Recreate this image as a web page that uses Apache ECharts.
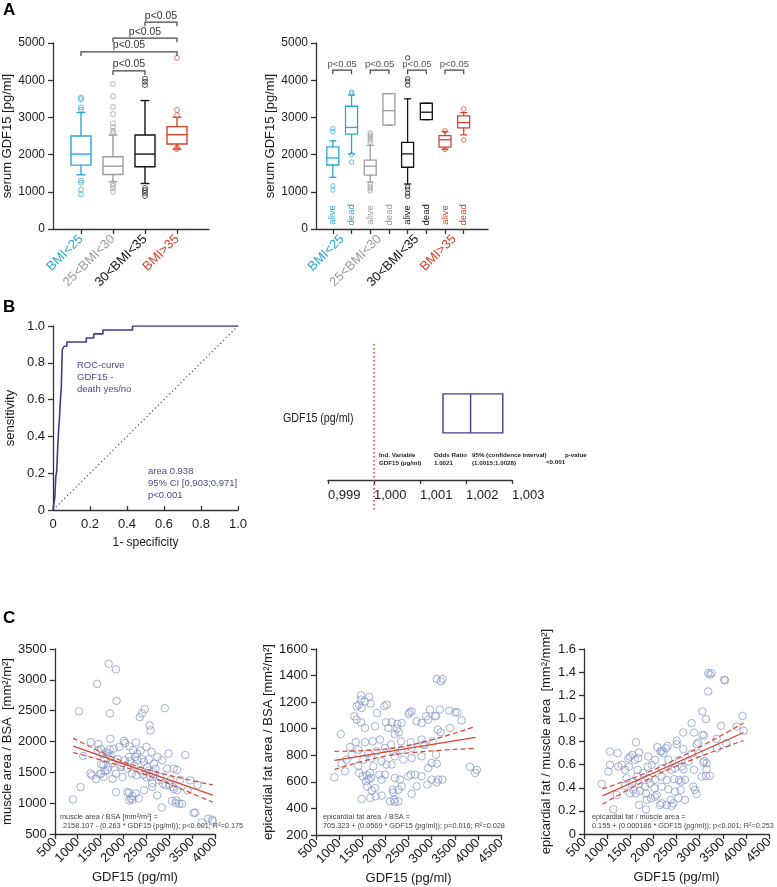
<!DOCTYPE html>
<html><head><meta charset="utf-8">
<script src="https://cdn.jsdelivr.net/npm/echarts@6/dist/echarts.min.js"></script>
<style>html,body{margin:0;padding:0;background:#fff}#c{width:777px;height:887px}</style>
</head><body><div id="c"></div>
<script>
// ================= DATA =================
// Panel A
const bmiGroups = ['BMI<25', '25<BMI<30', '30<BMI<35', 'BMI>35'];
const groupColors = ['#2ba7d6', '#9d9d9d', '#141414', '#d8432e'];
const pLabel = 'p<0.05';
// [position, whiskerLow, Q1, median, Q3, whiskerHigh, groupIndex]
const boxesA = [
  [1, 1457, 1718, 2014, 2500, 3130, 0],
  [2, 1268, 1466, 1690, 1942, 2527, 1],
  [3, 1223, 1673, 2014, 2527, 3453, 2],
  [4, 2149, 2284, 2536, 2752, 3004, 3]
];
// [position, value, groupIndex]
const outliersA = [
  [1,3530,0],[1,3490,0],[1,3270,0],[1,3210,0],[1,1300,0],[1,1240,0],[1,1060,0],[1,930,0],
  [2,3900,1],[2,3570,1],[2,3280,1],[2,3090,1],[2,2840,1],[2,2740,1],[2,2640,1],[2,2580,1],
  [2,1230,1],[2,1160,1],[2,1090,1],[2,1000,1],
  [3,4040,2],[3,3960,2],[3,3870,2],[3,1100,2],[3,1040,2],[3,970,2],[3,890,2],
  [4,4600,3],[4,3200,3],[4,3060,3],[4,2190,3],[4,2150,3]
];
// [fromPos, toPos, level]
const bracketsA = [[3,4,5560],[2,4,5130],[1,4,4760],[2,3,4250]];

const aliveDead = ['alive', 'dead'];
const boxesA2 = [
  [1, 1390, 1720, 1910, 2210, 2370, 0],
  [2, 2020, 2550, 2730, 3300, 3600, 0],
  [3, 1260, 1450, 1690, 1850, 2250, 1],
  [4, 2790, 2790, 3180, 3640, 3640, 1],
  [5, 1210, 1660, 2020, 2330, 3500, 2],
  [6, 2940, 2940, 3140, 3380, 3380, 2],
  [7, 2140, 2200, 2400, 2510, 2620, 3],
  [8, 2530, 2720, 2860, 3040, 3130, 3]
];
const outliersA2 = [
  [1,2700,0],[1,2620,0],[1,1160,0],[1,1050,0],
  [2,3680,0],[2,3640,0],[2,2000,0],[2,1800,0],
  [3,2580,1],[3,2530,1],[3,2480,1],[3,2430,1],[3,2380,1],[3,2330,1],[3,1200,1],[3,1140,1],[3,1080,1],[3,1020,1],
  [5,4600,2],[5,4040,2],[5,3970,2],[5,3870,2],[5,1130,2],[5,1060,2],[5,960,2],[5,880,2],
  [7,2640,3],[7,2140,3],[8,3230,3],[8,2390,3]
];
const bracketsA2 = [[1,2,4270],[3,4,4270],[5,6,4270],[7,8,4270]];
const groupLabelPosA2 = [1.5, 3.5, 5.5, 7.5];

// Panel B – ROC
const rocFpr = [0,0.01,0.015,0.02,0.025,0.03,0.035,0.04,0.045,0.05,0.06,0.075,0.18,0.22,0.27,0.43,1.0];
const rocTpr = [0,0.07,0.18,0.21,0.33,0.43,0.5,0.6,0.67,0.87,0.89,0.913,0.935,0.957,0.978,1.0,1.0];
const rocDiag = [[0,0],[1,1]];
const rocText1 = ['ROC-curve', 'GDF15 -', 'death yes/no'];
const rocText2 = ['area 0.938', '95% CI [0,903;0,971]', 'p<0.001'];

// Panel B – Odds ratio
const forestVar = 'GDF15 (pg/ml)';
const forestRows = [[1.0015, 1.0021, 1.0028]]; // [CI low, OR, CI high]
const forestRef = 1.0;

// Panel C
const muscle = [[1676,3260],[1835,3170],[1424,2935],[1849,2660],[1027,2490],[1705,2455],[2463,2525],[2405,2455],[2355,2395],[2903,2540],[2571,2260],[2593,2180],[1712,2045],[1286,1990],[1452,1960],[2008,2010],[2037,1975],[2275,1985],[2499,1910],[2982,1805],[3350,1780],[1120,1765],[1510,1880],[1619,1830],[1792,1885],[1907,1910],[2131,1920],[2210,1860],[2376,1855],[2615,1830],[2745,1750],[1438,1855],[1582,1720],[1727,1750],[1871,1715],[2030,1695],[2123,1750],[2304,1695],[2448,1670],[2557,1710],[2665,1640],[2845,1695],[1510,1630],[1669,1585],[1943,1585],[2087,1560],[2232,1615],[2376,1530],[2520,1585],[2700,1560],[2953,1560],[3097,1560],[3170,1540],[1279,1480],[1308,1450],[1510,1480],[1568,1425],[1835,1480],[1979,1425],[2181,1480],[2282,1450],[2434,1460],[2593,1425],[2773,1370],[2867,1315],[3025,1370],[3242,1380],[3458,1370],[3617,1300],[1402,1395],[1763,1395],[2629,1325],[2925,1290],[3083,1260],[3170,1210],[3401,1210],[2087,1180],[2123,1165],[2196,1115],[2268,1155],[2448,1210],[2629,1260],[2160,1075],[2196,1055],[2123,1045],[2333,1075],[3061,1035],[3155,1045],[3220,990],[3148,1000],[3278,990],[2838,930],[1063,1260],[897,1060],[3531,845],[3567,845],[3711,685],[3855,750],[3942,730],[3949,705],[1835,1180],[2737,1125],[2557,1530],[1550,1790],[1650,1800],[1700,1870],[1600,1520],[1650,1540],[1760,1650],[2250,1750],[2300,1800],[2400,1720],[2150,1680],[1950,1610],[2500,1420],[2650,1500],[2800,1420],[3000,1300],[3100,1230],[1480,1470],[1560,1620]];
const muscleFit = [[900,1925],[3950,1130]];
const muscleUpper = [[900,2055],[2200,1620],[3950,1296]];
const muscleLower = [[900,1822],[2200,1540],[3950,1015]];
const muscleEq = ['muscle area / BSA [mm²/m²] =', '2158.107 - (0.263 * GDF15 (pg/ml)); p<0.001; R²=0.175'];

const fat = [[3109,1374],[3238,1374],[3202,1357],[1473,1251],[1473,1219],[1430,1181],[1487,1156],[1559,1206],[1379,1169],[1977,1169],[2027,1181],[1819,1118],[2525,1123],[2568,1131],[2964,1144],[3180,1144],[3382,1136],[3504,1123],[3555,1123],[3648,1063],[1329,1093],[1379,1068],[1473,1048],[1559,1006],[2878,1093],[3072,1093],[3094,1098],[2928,1068],[2676,1056],[2258,1036],[2013,1048],[2136,1048],[2352,1043],[3130,993],[3397,1006],[1775,1018],[2064,1006],[2784,1043],[1033,960],[1358,900],[1559,898],[1725,905],[1883,918],[2121,880],[2294,973],[2337,905],[2546,898],[2784,918],[3022,905],[3195,973],[2856,880],[1235,862],[1415,842],[1271,805],[1631,817],[1811,830],[1991,855],[2171,830],[2352,842],[2568,855],[2820,880],[3094,805],[1163,767],[1523,767],[1703,780],[1919,755],[2027,730],[2207,792],[2388,767],[2568,780],[2784,792],[3000,742],[3109,737],[1055,737],[1127,679],[1415,722],[1739,717],[2136,730],[1430,667],[1509,642],[1580,604],[1667,667],[1689,629],[1869,654],[1919,617],[1991,654],[2207,629],[2316,617],[2496,642],[2554,654],[2640,654],[2784,642],[2928,704],[3000,617],[3144,617],[3231,617],[896,634],[1602,566],[1703,536],[1775,554],[2157,541],[2280,541],[2352,566],[2676,566],[2907,579],[3109,596],[1790,491],[1919,496],[2171,521],[2568,509],[1487,471],[1675,479],[2186,466],[2207,448],[2100,453],[2280,453],[3829,712],[3941,667],[3977,690],[1650,1240],[1680,1190],[2500,1110],[2200,960],[2250,1000],[1600,650],[1640,620]];
const fatFit = [[900,762],[3950,935]];
const fatUpper = [[900,830],[2100,850],[3950,1018]];
const fatLower = [[900,692],[2100,800],[3950,852]];
const fatEq = ['epicardial fat area  / BSA =', '705.323 + (0.0569 * GDF15 (pg/ml)); p=0.016; R²=0.028'];

const ratio = [[3187,1.392],[3260,1.392],[3223,1.378],[3533,1.334],[3547,1.328],[3187,1.233],[3058,1.060],[3929,1.022],[3137,0.993],[3461,0.936],[2827,0.959],[3951,0.892],[3800,0.930],[3058,0.858],[3094,0.852],[2647,0.878],[2878,0.878],[3368,0.823],[2503,0.806],[2935,0.777],[2971,0.791],[3576,0.783],[2308,0.762],[2503,0.777],[2647,0.734],[3375,0.742],[1062,0.713],[1228,0.699],[1624,0.794],[1689,0.705],[2085,0.751],[2179,0.719],[2215,0.699],[2272,0.742],[2827,0.693],[2986,0.699],[3101,0.632],[1062,0.598],[1314,0.598],[1494,0.670],[1458,0.653],[1545,0.684],[1602,0.641],[1674,0.656],[1890,0.670],[2035,0.641],[2150,0.713],[2323,0.641],[2553,0.641],[2611,0.583],[2755,0.627],[3079,0.618],[3151,0.612],[1242,0.583],[1386,0.555],[1473,0.583],[1660,0.555],[1876,0.583],[1962,0.598],[2179,0.569],[2395,0.555],[2467,0.569],[2647,0.560],[2878,0.555],[3151,0.560],[3043,0.497],[3137,0.503],[3223,0.503],[1026,0.540],[1422,0.482],[1646,0.497],[1782,0.526],[1890,0.482],[2035,0.468],[2179,0.497],[2287,0.468],[2453,0.474],[2553,0.468],[2597,0.453],[2683,0.468],[882,0.433],[1386,0.416],[1566,0.453],[1689,0.433],[1818,0.410],[1926,0.439],[2020,0.396],[2179,0.410],[2323,0.387],[2467,0.367],[2590,0.381],[2863,0.410],[2899,0.381],[1566,0.381],[1617,0.352],[1710,0.372],[1494,0.352],[1206,0.338],[1840,0.352],[2035,0.323],[2374,0.295],[2539,0.309],[2683,0.295],[2935,0.347],[1855,0.295],[1948,0.309],[2071,0.338],[2143,0.251],[2179,0.266],[2287,0.251],[2395,0.243],[2431,0.266],[1689,0.251],[1840,0.214],[1134,0.214]];
const ratioFit = [[900,0.33],[3950,0.878]];
const ratioUpper = [[900,0.39],[2200,0.59],[3950,0.96]];
const ratioLower = [[900,0.257],[2200,0.535],[3950,0.809]];
const ratioEq = ['epicardial fat / muscle area =', '0.155 + (0.000186 * GDF15 (pg/ml)); p<0.001; R²=0.253'];

// ================= CHART =================
const FONT = '"Liberation Sans", Arial, Helvetica, sans-serif';
const AX = '#333';
const TXT = '#1a1a1a';
const RED = '#d9432f';
const ROC_C = '#3f3d8f';
const DOT_C = '#7d92c6';

function isObj(o) { return o && typeof o === 'object' && !Array.isArray(o); }
function merge(a, b) {
  const out = Object.assign({}, a);
  for (const k in b) out[k] = (isObj(a[k]) && isObj(b[k])) ? merge(a[k], b[k]) : b[k];
  return out;
}
function axis(extra) {
  return merge({
    type: 'value', splitLine: { show: false },
    axisLine: { show: true, onZero: false, lineStyle: { color: AX, width: 1.3 } },
    axisTick: { show: true, length: 5, lineStyle: { color: AX, width: 1.3 } },
    axisLabel: { color: TXT, fontSize: 13, fontFamily: FONT, formatter: v => String(v) },
    nameLocation: 'middle',
    nameTextStyle: { color: TXT, fontSize: 13, fontFamily: FONT }
  }, extra);
}

function boxRender(halfW, capHalf, lw) {
  return function (params, api) {
    const pos = api.value(0);
    const col = groupColors[api.value(6)];
    const pt = v => api.coord([pos, v]);
    const lo = pt(api.value(1)), q1 = pt(api.value(2)), md = pt(api.value(3)),
          q3 = pt(api.value(4)), hi = pt(api.value(5));
    const x = lo[0];
    const st = { stroke: col, lineWidth: lw, fill: null };
    return { type: 'group', children: [
      { type: 'rect', shape: { x: x - halfW, y: q3[1], width: 2 * halfW, height: q1[1] - q3[1] }, style: { stroke: col, lineWidth: lw, fill: 'rgba(0,0,0,0)' } },
      { type: 'line', shape: { x1: x - halfW, y1: md[1], x2: x + halfW, y2: md[1] }, style: st },
      { type: 'line', shape: { x1: x, y1: q3[1], x2: x, y2: hi[1] }, style: st },
      { type: 'line', shape: { x1: x, y1: q1[1], x2: x, y2: lo[1] }, style: st },
      { type: 'line', shape: { x1: x - capHalf, y1: hi[1], x2: x + capHalf, y2: hi[1] }, style: st },
      { type: 'line', shape: { x1: x - capHalf, y1: lo[1], x2: x + capHalf, y2: lo[1] }, style: st }
    ]};
  };
}
function bracketRender(tick, fontSize, textColor, lineColor) {
  return function (params, api) {
    const a = api.coord([api.value(0), api.value(2)]);
    const b = api.coord([api.value(1), api.value(2)]);
    return { type: 'group', children: [
      { type: 'polyline', shape: { points: [[a[0], a[1] + tick], [a[0], a[1]], [b[0], b[1]], [b[0], b[1] + tick]] },
        style: { stroke: lineColor, lineWidth: 1.2, fill: null } },
      { type: 'text', x: (a[0] + b[0]) / 2, y: a[1] - 1,
        style: { text: pLabel, fontSize: fontSize, fill: textColor, align: 'center', verticalAlign: 'bottom', fontFamily: FONT } }
    ]};
  };
}
function outlierData(arr) {
  return arr.map(o => ({ value: [o[0], o[1]], itemStyle: { borderColor: groupColors[o[2]] } }));
}
const richGroups = {};
groupColors.forEach((c, i) => { richGroups['g' + i] = { color: c, fontSize: 13, fontFamily: FONT }; });

const yA = {
  min: 0, max: 5000, interval: 1000,
  axisLabel: { fontSize: 12 },
  name: 'serum GDF15 [pg/ml]', nameGap: 36
};

const grids = [
  { left: 53, top: 43, width: 156, height: 186 },
  { left: 316, top: 43, width: 172, height: 186 },
  { left: 53, top: 326, width: 185, height: 184 },
  { left: 328, top: 344, width: 184, height: 136 },
  { left: 53, top: 649, width: 162, height: 185 },
  { left: 316, top: 649, width: 185, height: 186 },
  { left: 584, top: 649, width: 185, height: 185 }
];

const xAxes = [
  axis({ gridIndex: 0, min: 0.125, max: 5,
    axisTick: { customValues: [1, 2, 3, 4] },
    axisLabel: { customValues: [1, 2, 3, 4], rotate: 45, margin: 8,
      formatter: v => { const i = Math.round(v) - 1; return '{g' + i + '|' + bmiGroups[i] + '}'; }, rich: richGroups } }),
  axis({ gridIndex: 1, min: 0.1, max: 9.3,
    axisTick: { customValues: [1, 2, 3, 4, 5, 6, 7, 8] },
    axisLabel: { customValues: groupLabelPosA2, rotate: 45, margin: 8,
      formatter: v => { const i = Math.round((v - 1.5) / 2); return '{g' + i + '|' + bmiGroups[i] + '}'; }, rich: richGroups } }),
  axis({ gridIndex: 2, min: 0, max: 1, interval: 0.2, name: '1- specificity', nameGap: 27,
    nameTextStyle: { fontSize: 12 },
    axisTick: { inside: true, length: 4 },
    axisLabel: { formatter: v => v === 0 ? '0' : v.toFixed(1) } }),
  axis({ gridIndex: 3, min: 0.999, max: 1.003, interval: 0.001,
    axisTick: { length: 4 },
    axisLabel: { align: 'left', margin: 9, formatter: v => v.toFixed(3).replace('.', ',') } }),
  axis({ gridIndex: 4, min: 500, max: 4000, interval: 500, name: 'GDF15 (pg/ml)', nameGap: 37,
    axisLabel: { rotate: 45, margin: 6 } }),
  axis({ gridIndex: 5, min: 500, max: 4500, interval: 500, name: 'GDF15 (pg/ml)', nameGap: 37,
    axisLabel: { rotate: 45, margin: 6 } }),
  axis({ gridIndex: 6, min: 500, max: 4500, interval: 500, name: 'GDF15 (pg/ml)', nameGap: 37,
    axisLabel: { rotate: 45, margin: 6 } })
];
const yAxes = [
  axis(Object.assign({ gridIndex: 0 }, yA)),
  axis(Object.assign({ gridIndex: 1 }, yA)),
  axis({ gridIndex: 2, min: 0, max: 1, interval: 0.2, name: 'sensitivity', nameGap: 36,
    axisLabel: { formatter: v => v === 0 ? '0' : v.toFixed(1) } }),
  axis({ gridIndex: 3, min: 0, max: 1, show: false }),
  axis({ gridIndex: 4, min: 500, max: 3500, interval: 500, name: 'muscle area / BSA  [mm²/m²]', nameGap: 36 }),
  axis({ gridIndex: 5, min: 200, max: 1600, interval: 200, name: 'epicardial fat area / BSA [mm²/m²]', nameGap: 38 }),
  axis({ gridIndex: 6, min: 0, max: 1.6, interval: 0.2, name: 'epicardial fat / muscle area  [mm²/mm²]', nameGap: 31,
    axisLabel: { formatter: v => v === 0 ? '0' : v.toFixed(1) } })
];

const series = [];
// Panel A left
series.push({ type: 'custom', xAxisIndex: 0, yAxisIndex: 0, clip: false, data: boxesA,
  encode: { x: 0, y: [1, 2, 3, 4, 5] }, renderItem: boxRender(10, 4.5, 1.4) });
series.push({ type: 'scatter', xAxisIndex: 0, yAxisIndex: 0, symbol: 'circle', symbolSize: 5,
  itemStyle: { color: 'rgba(0,0,0,0)', borderWidth: 0.9 }, data: outlierData(outliersA) });
series.push({ type: 'custom', xAxisIndex: 0, yAxisIndex: 0, clip: false, data: bracketsA,
  encode: { x: [0, 1], y: 2 }, renderItem: bracketRender(4, 10.5, '#333', '#444') });
// Panel A right
series.push({ type: 'custom', xAxisIndex: 1, yAxisIndex: 1, clip: false, data: boxesA2,
  encode: { x: 0, y: [1, 2, 3, 4, 5] }, renderItem: boxRender(6, 3.5, 1.3) });
series.push({ type: 'scatter', xAxisIndex: 1, yAxisIndex: 1, symbol: 'circle', symbolSize: 4.5,
  itemStyle: { color: 'rgba(0,0,0,0)', borderWidth: 0.9 }, data: outlierData(outliersA2) });
series.push({ type: 'custom', xAxisIndex: 1, yAxisIndex: 1, clip: false, data: bracketsA2,
  encode: { x: [0, 1], y: 2 }, renderItem: bracketRender(4, 9.5, '#555', '#444') });
series.push({ type: 'custom', xAxisIndex: 1, yAxisIndex: 1, clip: false,
  data: boxesA2.map(b => [b[0], b[6]]), encode: { x: 0 },
  renderItem: (params, api) => {
    const p = api.coord([api.value(0), 380]);
    return { type: 'text', x: p[0], y: p[1], rotation: Math.PI / 2,
      style: { text: aliveDead[params.dataIndex % 2], fill: groupColors[api.value(1)], fontSize: 9.5,
        align: 'center', verticalAlign: 'middle', fontFamily: FONT } };
  } });
// Panel B ROC
series.push({ type: 'line', xAxisIndex: 2, yAxisIndex: 2, data: rocDiag, symbol: 'none', silent: true,
  lineStyle: { color: '#4a4a70', width: 1.2, type: [1.2, 2.8] } });
series.push({ type: 'line', xAxisIndex: 2, yAxisIndex: 2, step: 'end', symbol: 'none',
  data: rocFpr.map((x, i) => [x, rocTpr[i]]), lineStyle: { color: ROC_C, width: 1.6 } });
// Panel B forest
series.push({ type: 'custom', xAxisIndex: 3, yAxisIndex: 3, clip: false, data: [[forestRef]], encode: { x: 0 },
  renderItem: (params, api) => {
    const t = api.coord([api.value(0), 1]);
    const b = api.coord([api.value(0), 0]);
    return { type: 'line', shape: { x1: t[0], y1: t[1], x2: b[0], y2: b[1] + 31 },
      style: { stroke: RED, lineWidth: 1.5, lineDash: [1.5, 2.5] } };
  } });
series.push({ type: 'custom', xAxisIndex: 3, yAxisIndex: 3, clip: false, data: forestRows, encode: { x: [0, 1, 2] },
  renderItem: (params, api) => {
    const lo = api.coord([api.value(0), 0.49]);
    const mid = api.coord([api.value(1), 0.49]);
    const hi = api.coord([api.value(2), 0.49]);
    const h = 39;
    const st = { stroke: ROC_C, lineWidth: 1.4, fill: null };
    return { type: 'group', children: [
      { type: 'rect', shape: { x: lo[0], y: lo[1] - h / 2, width: hi[0] - lo[0], height: h }, style: { stroke: ROC_C, lineWidth: 1.4, fill: 'rgba(0,0,0,0)' } },
      { type: 'line', shape: { x1: mid[0], y1: mid[1] - h / 2, x2: mid[0], y2: mid[1] + h / 2 }, style: st }
    ]};
  } });
// Panel C
function scatterSet(idx, pts, fit, up, low) {
  series.push({ type: 'scatter', xAxisIndex: idx, yAxisIndex: idx, data: pts, symbol: 'circle', symbolSize: 7.5,
    itemStyle: { color: 'rgba(0,0,0,0)', borderColor: DOT_C, borderWidth: 0.9 } });
  series.push({ type: 'line', xAxisIndex: idx, yAxisIndex: idx, data: fit, symbol: 'none', lineStyle: { color: RED, width: 1.2 } });
  series.push({ type: 'line', xAxisIndex: idx, yAxisIndex: idx, data: up, symbol: 'none', smooth: 0.4, lineStyle: { color: RED, width: 1.2, type: [5, 3] } });
  series.push({ type: 'line', xAxisIndex: idx, yAxisIndex: idx, data: low, symbol: 'none', smooth: 0.4, lineStyle: { color: RED, width: 1.2, type: [5, 3] } });
}
scatterSet(4, muscle, muscleFit, muscleUpper, muscleLower);
scatterSet(5, fat, fatFit, fatUpper, fatLower);
scatterSet(6, ratio, ratioFit, ratioUpper, ratioLower);

// Text annotations
function txt(x, y, text, o) {
  return { type: 'text', left: x, top: y, silent: true,
    style: Object.assign({ text: text, fill: TXT, fontSize: 13, fontFamily: FONT }, o || {}) };
}
const graphic = [
  txt(3, 2, 'A', { fontSize: 17, fontWeight: 'bold', fill: '#000' }),
  txt(3, 299, 'B', { fontSize: 17, fontWeight: 'bold', fill: '#000' }),
  txt(3, 610, 'C', { fontSize: 17, fontWeight: 'bold', fill: '#000' }),
  txt(77, 360, rocText1.join('\n'), { fontSize: 9.5, lineHeight: 11.7, fill: '#4b4a93' }),
  txt(148, 466, rocText2.join('\n'), { fontSize: 9.5, lineHeight: 11.7, fill: '#4b4a93' }),
  { type: 'text', left: 283, top: 412, silent: true, scaleX: 0.82,
    style: { text: forestVar, fill: TXT, fontSize: 13, fontFamily: FONT } },
  txt(379, 452, 'Ind. Variable\nGDF15 (pg/ml)', { fontSize: 6.2, fontWeight: 'bold', lineHeight: 7.3, fill: '#222' }),
  txt(434, 452, 'Odds Ratio\n1.0021', { fontSize: 6.2, fontWeight: 'bold', lineHeight: 7.3, fill: '#222' }),
  txt(472, 452, '95% (confidence interval)\n(1.0015;1.0028)', { fontSize: 6.2, fontWeight: 'bold', lineHeight: 7.3, fill: '#222' }),
  txt(565, 452, 'p-value', { fontSize: 6.2, fontWeight: 'bold', fill: '#222' }),
  txt(546, 459, '<0.001', { fontSize: 6.2, fontWeight: 'bold', fill: '#222' }),
  txt(60, 813, muscleEq[0], { fontSize: 7.3, fill: '#444' }),
  txt(63, 822, muscleEq[1], { fontSize: 7.3, fill: '#444' }),
  txt(323, 813, fatEq[0], { fontSize: 7.3, fill: '#444' }),
  txt(323, 822, fatEq[1], { fontSize: 7.3, fill: '#444' }),
  txt(592, 813, ratioEq[0], { fontSize: 7.3, fill: '#444' }),
  txt(592, 822, ratioEq[1], { fontSize: 7.3, fill: '#444' })
];

const chart = echarts.init(document.getElementById('c'), null, { renderer: 'canvas' });
chart.setOption({
  animation: false,
  backgroundColor: '#fff',
  textStyle: { fontFamily: FONT },
  grid: grids,
  xAxis: xAxes,
  yAxis: yAxes,
  series: series,
  graphic: graphic
});
</script>
</body></html>
